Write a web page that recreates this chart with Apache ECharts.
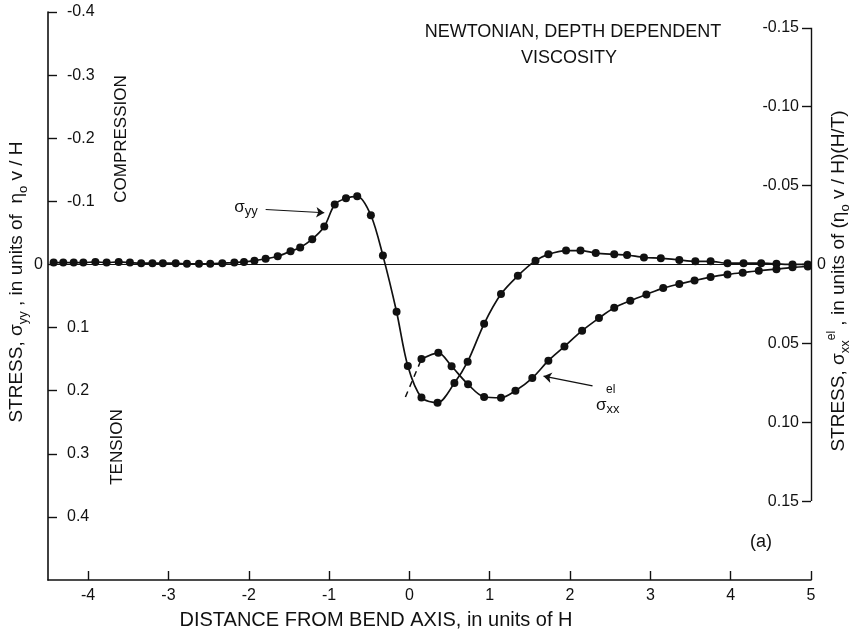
<!DOCTYPE html>
<html>
<head>
<meta charset="utf-8">
<script src="https://cdn.jsdelivr.net/npm/echarts@6/dist/echarts.min.js"></script>
<style>
  html, body { margin: 0; padding: 0; background: #fff; }
  #chart { width: 855px; height: 634px; }
</style>
</head>
<body>
<div id="chart"></div>
<script>
// Stress profiles across the bend axis (distance in units of H)
const sigmaYY = [
  [-4.43,-0.003],[-4.31,-0.003],[-4.18,-0.003],[-4.06,-0.003],[-3.91,-0.004],[-3.77,-0.003],
  [-3.62,-0.004],[-3.48,-0.003],[-3.34,-0.002],[-3.20,-0.002],[-3.07,-0.002],[-2.91,-0.002],
  [-2.77,-0.001],[-2.62,-0.001],[-2.48,-0.001],[-2.33,-0.002],[-2.18,-0.003],[-2.06,-0.004],
  [-1.93,-0.006],[-1.79,-0.009],[-1.64,-0.013],[-1.48,-0.021],[-1.36,-0.027],[-1.21,-0.040],
  [-1.06,-0.060],[-0.93,-0.095],[-0.79,-0.105],[-0.65,-0.108],[-0.48,-0.078],[-0.33,-0.014],
  [-0.16,0.075],[-0.02,0.161],[0.15,0.211],[0.35,0.219],[0.56,0.188],[0.725,0.154],
  [0.93,0.094],[1.14,0.047],[1.35,0.018],[1.57,-0.006],[1.73,-0.016],[1.95,-0.022],
  [2.13,-0.022],[2.32,-0.018],[2.55,-0.016],[2.71,-0.015],[2.92,-0.011],[3.13,-0.010],
  [3.36,-0.007],[3.56,-0.005],[3.75,-0.005],[3.96,-0.002],[4.16,-0.002],[4.38,-0.002],
  [4.57,-0.001],[4.77,0.000],[4.96,0.000]
];
const sigmaXXel = [
  [0.15,0.060],[0.36,0.056],[0.525,0.0645],[0.73,0.076],[0.93,0.084],[1.14,0.0845],
  [1.32,0.080],[1.53,0.072],[1.73,0.061],[1.93,0.052],[2.15,0.042],[2.36,0.034],
  [2.55,0.0275],[2.75,0.023],[2.95,0.019],[3.16,0.015],[3.36,0.0124],[3.55,0.0102],
  [3.75,0.008],[3.96,0.0063],[4.15,0.0052],[4.35,0.004],[4.57,0.003],[4.77,0.0018],
  [4.96,0.0013]
];
// dashed lead-in of the elastic curve near the axis
const sigmaXXelLead = [[-0.05,0.084],[0.15,0.060]];

const xTicks = [-4,-3,-2,-1,0,1,2,3,4,5];
const leftTicks = [-0.4,-0.3,-0.2,-0.1,0,0.1,0.2,0.3,0.4];
const leftLabels = [-0.4,-0.3,-0.2,-0.1,0.1,0.2,0.3,0.4];
const rightTicks = [-0.15,-0.10,-0.05,0,0.05,0.10,0.15];
const rightLabels = [-0.15,-0.10,-0.05,0.05,0.10,0.15];

// pointer arrows: [tail, head]
const arrowYY = [[-1.79,-0.087],[-1.06,-0.082]];
const arrowXX = [[2.28,0.077],[1.67,0.0708]];

const FONT = 'Liberation Sans';
const INK = '#111';

const chart = echarts.init(document.getElementById('chart'), null, { renderer: 'canvas' });

const axisCommon = {
  splitLine: { show: false },
  axisLine: { show: true, onZero: false, lineStyle: { color: INK, width: 1.6 } },
  axisTick: { show: true, inside: true, length: 9, lineStyle: { color: INK, width: 1.4 } },
  axisLabel: { color: INK, fontFamily: FONT, fontSize: 16 }
};

chart.setOption({
  animation: false,
  backgroundColor: '#fff',
  grid: { left: 48, right: 44, top: 12, bottom: 54, containLabel: false },
  xAxis: {
    type: 'value', min: -4.5, max: 5,
    ...axisCommon,
    axisTick: { ...axisCommon.axisTick, customValues: xTicks },
    axisLabel: { ...axisCommon.axisLabel, customValues: xTicks, margin: 8,
      formatter: v => String(v) }
  },
  yAxis: [
    {
      type: 'value', inverse: true, min: -0.4, max: 0.5, interval: 0.1, position: 'left',
      ...axisCommon,
      axisTick: { ...axisCommon.axisTick, customValues: leftTicks },
      axisLabel: { ...axisCommon.axisLabel, inside: true, margin: 19, customValues: leftLabels,
        formatter: v => v.toFixed(1) }
    },
    {
      type: 'value', inverse: true, min: -0.16, max: 0.2, position: 'right',
      ...axisCommon,
      axisLine: { show: false, onZero: false },
      axisTick: { ...axisCommon.axisTick, customValues: rightTicks },
      axisLabel: { ...axisCommon.axisLabel, inside: true, margin: 12, customValues: rightLabels,
        formatter: v => v.toFixed(2) }
    },
    {
      type: 'value', inverse: true, min: -0.4, max: 0.5, position: 'left', offset: 0,
      splitLine: { show: false }, axisLine: { show: false, onZero: false }, axisTick: { show: false },
      axisLabel: { color: INK, fontFamily: FONT, fontSize: 16, margin: 5, customValues: [0],
        formatter: () => '0' }
    },
    {
      type: 'value', inverse: true, min: -0.16, max: 0.2, position: 'right', offset: 0,
      splitLine: { show: false }, axisLine: { show: false, onZero: false }, axisTick: { show: false },
      axisLabel: { color: INK, fontFamily: FONT, fontSize: 16, margin: 6, customValues: [0],
        formatter: () => '0' }
    }
  ],
  series: [
    {
      name: 'sigma_yy', type: 'line', yAxisIndex: 0, data: sigmaYY,
      symbol: 'circle', symbolSize: 8, showSymbol: true, smooth: 0.3,
      lineStyle: { color: INK, width: 1.7 }, itemStyle: { color: INK },
      markLine: {
        silent: true, animation: false, label: { show: false },
        data: [
          [{ yAxis: 0, x: 48, symbol: 'none' }, { yAxis: 0, x: 811, symbol: 'none' }],
          [{ coord: arrowYY[0], symbol: 'none' }, { coord: arrowYY[1], symbol: 'arrow', symbolSize: 8 }]
        ],
        lineStyle: { color: INK, width: 1.1, type: 'solid' }
      }
    },
    {
      name: 'sigma_xx_el', type: 'line', yAxisIndex: 1, data: sigmaXXel,
      symbol: 'circle', symbolSize: 8, showSymbol: true, smooth: 0.3,
      lineStyle: { color: INK, width: 1.7 }, itemStyle: { color: INK },
      markLine: {
        silent: true, animation: false, label: { show: false },
        data: [
          [{ coord: [5, -0.15], symbol: 'none' }, { coord: [5, 0.15], symbol: 'none' }],
          [{ coord: arrowXX[0], symbol: 'none' }, { coord: arrowXX[1], symbol: 'arrow', symbolSize: 8 }]
        ],
        lineStyle: { color: INK, width: 1.4, type: 'solid' }
      }
    },
    {
      name: 'sigma_xx_el_lead', type: 'line', yAxisIndex: 1, data: sigmaXXelLead,
      symbol: 'none', lineStyle: { color: INK, width: 1.5, type: [6, 5] }
    }
  ],
  graphic: [
    { type: 'text', x: 573, y: 32, style: { text: 'NEWTONIAN, DEPTH DEPENDENT', fill: INK,
        fontFamily: FONT, fontSize: 18, align: 'center', verticalAlign: 'middle' } },
    { type: 'text', x: 569, y: 58, style: { text: 'VISCOSITY', fill: INK,
        fontFamily: FONT, fontSize: 18, align: 'center', verticalAlign: 'middle' } },
    { type: 'text', x: 121, y: 139, rotation: Math.PI / 2, style: { text: 'COMPRESSION', fill: INK,
        fontFamily: FONT, fontSize: 17, align: 'center', verticalAlign: 'middle' } },
    { type: 'text', x: 117, y: 447, rotation: Math.PI / 2, style: { text: 'TENSION', fill: INK,
        fontFamily: FONT, fontSize: 17, align: 'center', verticalAlign: 'middle' } },
    { type: 'text', x: 761, y: 542, style: { text: '(a)', fill: INK,
        fontFamily: FONT, fontSize: 18, align: 'center', verticalAlign: 'middle' } },
    { type: 'text', x: 376, y: 620, style: { text: 'DISTANCE FROM BEND AXIS, in units of H', fill: INK,
        fontFamily: FONT, fontSize: 20, align: 'center', verticalAlign: 'middle' } },
    { type: 'text', x: 17, y: 282, rotation: Math.PI / 2, style: {
        text: 'STRESS, σ{sub|yy} , in units of  η{sub|o} v / H', fill: INK,
        fontFamily: FONT, fontSize: 19, lineHeight: 26, align: 'center', verticalAlign: 'middle',
        rich: { sub: { fontFamily: FONT, fontSize: 13, lineHeight: 12, verticalAlign: 'bottom', fill: INK } } } },
    { type: 'text', x: 839, y: 281, rotation: Math.PI / 2, style: {
        text: 'STRESS, σ{sub|xx}{sup|el} , in units of (η{sub|o} v / H)(H/T)', fill: INK,
        fontFamily: FONT, fontSize: 19, lineHeight: 26, align: 'center', verticalAlign: 'middle',
        rich: {
          sub: { fontFamily: FONT, fontSize: 13, lineHeight: 12, verticalAlign: 'bottom', fill: INK },
          sup: { fontFamily: FONT, fontSize: 12, lineHeight: 12, verticalAlign: 'top', fill: INK }
        } } },
    { type: 'text', x: 246, y: 207, style: {
        text: 'σ{sub|yy}', fill: INK, fontFamily: FONT, fontSize: 17, lineHeight: 22,
        align: 'center', verticalAlign: 'middle',
        rich: { sub: { fontFamily: FONT, fontSize: 13, lineHeight: 10, verticalAlign: 'bottom', fill: INK } } } },
    { type: 'text', x: 596, y: 405, style: {
        text: 'σ{sub|xx}', fill: INK, fontFamily: FONT, fontSize: 17, lineHeight: 22,
        align: 'left', verticalAlign: 'middle',
        rich: { sub: { fontFamily: FONT, fontSize: 13, lineHeight: 10, verticalAlign: 'bottom', fill: INK } } } },
    { type: 'text', x: 606, y: 390, style: { text: 'el', fill: INK, fontFamily: FONT, fontSize: 12,
        align: 'left', verticalAlign: 'middle' } }
  ]
});
</script>
</body>
</html>
